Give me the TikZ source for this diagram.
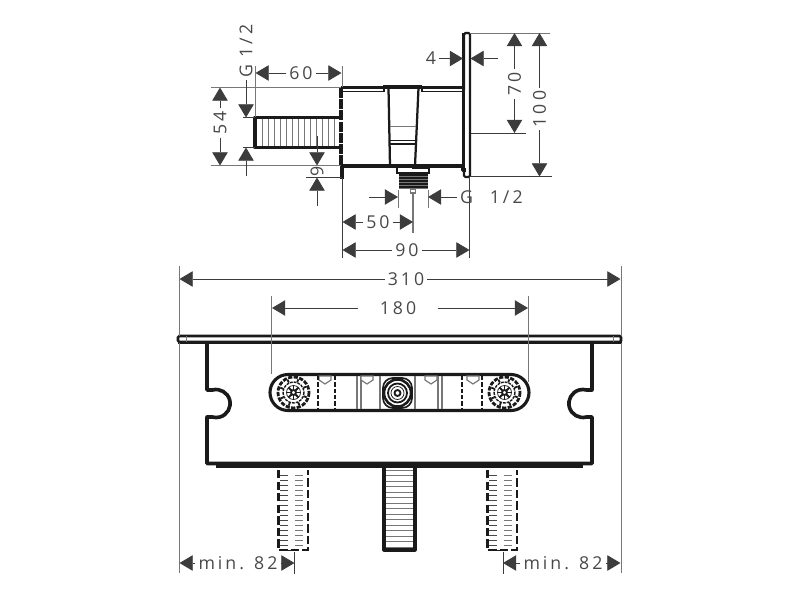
\documentclass[tikz,border=0pt]{standalone}
\usepackage{fontspec}
\usetikzlibrary{arrows.meta, calc}
\newfontfamily\dimfont[LetterSpace=17]{Open Sans}
\definecolor{inkdark}{HTML}{1A1A1A}
\definecolor{linegray}{HTML}{777777}
\definecolor{textgray}{HTML}{484848}

\begin{document}
\begin{tikzpicture}[
		x=0.25mm, y=-0.25mm,
		>={Triangle[length=9.4pt,width=11pt]},
		dimline/.style={line width=0.6pt, draw=inkdark!85},
		extline/.style={line width=0.6pt, draw=linegray},
		dimtext/.style={font=\dimfont\fontsize{12.6}{13}\selectfont, text=textgray, inner sep=2pt},
		body/.style={line width=2.2pt, draw=inkdark, line join=round},
		mid/.style={line width=1.3pt, draw=inkdark},
		thin/.style={line width=0.5pt, draw=linegray},
		hollowstub/.style={line width=1.5pt, draw=inkdark, dash pattern=on 6pt off 2.2pt},
		knob/.pic={
			\draw[line width=2pt, draw=inkdark, dash pattern=on 3pt off 1pt] (0,0) circle (15.5);
			\draw[line width=1pt, draw=inkdark, dash pattern=on 2pt off 0.7pt] (0,0) circle (10.5);
			\draw[thin, draw=inkdark] (0,0) circle (7);
			\draw[mid] (0,0) circle (2.5);
			\foreach \ang in {0,45,...,315}{
				\draw[mid] (\ang:3) -- (\ang:7);
				\draw[mid] (\ang+20:11) -- (\ang+20:14);
			}
		}
		]
		
		\useasboundingbox (0,0) rectangle (800,600);
		
		% ==========================================
		% SIDE VIEW
		% ==========================================
		% stub with grooves
		\foreach \xx in {262,268,...,336}
		\draw[thin] (\xx,118) -- (\xx,147);
		\draw[body] (340,117.5) -- (255,117.5) -- (255,147.5) -- (340,147.5);
		
		% housing
		\draw[line width=2.4pt, draw=inkdark, dash pattern=on 7pt off 1pt] (341,88) -- (341,166);
		\draw[body] (342,166) -- (342,179);
		\draw[body] (341,87.5) -- (463,87.5);
		\draw[body] (341,166) -- (463,166);
		\draw[mid] (343,91.5) -- (384,91.5) -- (384,87.5);
		\draw[mid] (422,87.5) -- (422,91.5) -- (463,91.5);
		\draw[body, line width=1.5pt] (383,86) -- (422,86);
		\draw[body, line width=1.6pt] (388.5,88) -- (390,166);
		\draw[body, line width=1.6pt] (418.5,88) -- (415,166);
		\draw[thin] (390,126.5) -- (416,126.5);
		\draw[mid] (390,140.5) -- (416,140.5);
		\draw[mid] (390,144) -- (416,144);
		
		% outlet
		\draw[mid] (397,166) -- (397,174);
		\draw[mid] (429,166) -- (429,174);
		\draw[mid] (397,173) -- (429,173);
		\draw[mid] (412,168) -- (429,168);
		\fill[inkdark] (399,174) rectangle (428,189);
		\foreach \yy in {176,179,...,188}
		\draw[thin] (399,\yy) -- (428,\yy);
		\draw[thin, line width=0.8pt] (410.5,189) rectangle (415.5,193);
		
		% wall plate
		\draw[line width=1.6pt, draw=inkdark, rounded corners=1pt] (464,90) -- (464,33) -- (470,33) -- (470,177) -- (464,177) -- (464,168);
		\draw[body] (463.5,33) -- (463.5,168);
		\draw[body] (463,167) -- (463,170) -- (466,170);
		
		% ==========================================
		% SIDE VIEW DIMENSIONS
		% ==========================================
		\draw[extline] (211,87.5) -- (341,87.5);
		\draw[extline] (211,165.5) -- (341,165.5);
		\draw[extline] (255.5,66) -- (255.5,117);
		\draw[extline] (342,66) -- (342,87);
		\draw[dimline] (342,178) -- (342,258);
		\draw[extline] (470,33) -- (550,33);
		\draw[dimline] (470,176.5) -- (552,176.5);
		\draw[dimline] (471,133) -- (526,133);
		\draw[dimline] (469.5,178) -- (469.5,258);
		\draw[dimline] (243,117.5) -- (255,117.5);
		\draw[dimline] (243,147.5) -- (255,147.5);
		\draw[dimline] (306,177.5) -- (342,177.5);
		\draw[extline] (398,190) -- (398,208);
		\draw[extline] (428,190) -- (428,208);
		\draw[extline, line width=0.8pt] (413,193) -- (413,233);
		
		% 60
		\coordinate (a60) at (255.5,73);
		\coordinate (b60) at (341.5,73);
		\node[dimtext] (t60) at (301,73) {60};
		\draw[dimline, ->] (t60.west |- a60) -- (a60);
		\draw[dimline, ->] (t60.east |- b60) -- (b60);
		
		% 54
		\coordinate (a54) at (220,87.5);
		\coordinate (b54) at (220,165.5);
		\node[dimtext, rotate=90] (t54) at (220,123) {54};
		\draw[dimline, ->] (a54 |- t54.east) -- (a54);
		\draw[dimline, ->] (b54 |- t54.west) -- (b54);
		
		% G 1/2 (stub)
		\coordinate (a12) at (246,117.5);
		\coordinate (b12) at (246,147.5);
		\coordinate (c12) at (246,176);
		\node[dimtext, rotate=90] (tg1) at (246,51) {G\hspace{5pt}1/2};
		\draw[dimline, ->] (a12 |- tg1.west) -- (a12);
		\draw[dimline, ->] (c12) -- (b12);
		
		% 9
		\coordinate (a9) at (317,165.5);
		\coordinate (b9) at (317,177.5);
		\coordinate (c9) at (317,136);
		\coordinate (d9) at (317,206);
		\node[dimtext, rotate=90, inner sep=0pt] (t9) at (317,171.5) {9};
		\draw[dimline, ->] (c9) -- (a9);
		\draw[dimline, ->] (d9) -- (b9);
		
		% G 1/2 (outlet)
		\coordinate (a13) at (398,197);
		\coordinate (b13) at (428,197);
		\coordinate (c13) at (369,197);
		\node[dimtext, anchor=west] (tg2) at (457,197) {G\hspace{12pt}1/2};
		\draw[dimline, ->] (c13) -- (a13);
		\draw[dimline, ->] (tg2.west |- b13) -- (b13);
		
		% 50
		\coordinate (a50) at (342.5,222);
		\coordinate (b50) at (413,222);
		\node[dimtext] (t50) at (378,222) {50};
		\draw[dimline, ->] (t50.west |- a50) -- (a50);
		\draw[dimline, ->] (t50.east |- b50) -- (b50);
		
		% 90
		\coordinate (a90) at (342.5,250);
		\coordinate (b90) at (469.5,250);
		\node[dimtext] (t90) at (407,250) {90};
		\draw[dimline, ->] (t90.west |- a90) -- (a90);
		\draw[dimline, ->] (t90.east |- b90) -- (b90);
		
		% 4
		\coordinate (a4) at (463,58.5);
		\coordinate (b4) at (470.5,58.5);
		\coordinate (c4) at (498,58.5);
		\node[dimtext] (t4) at (431,58.5) {4};
		\draw[dimline, ->] (t4.east |- a4) -- (a4);
		\draw[dimline, ->] (c4) -- (b4);
		
		% 70
		\coordinate (a70) at (514.5,33);
		\coordinate (b70) at (514.5,133);
		\node[dimtext, rotate=90] (t70) at (514.5,84) {70};
		\draw[dimline, ->] (a70 |- t70.east) -- (a70);
		\draw[dimline, ->] (b70 |- t70.west) -- (b70);
		
		% 100
		\coordinate (a100) at (539.5,33);
		\coordinate (b100) at (539.5,176.5);
		\node[dimtext, rotate=90] (t100) at (539.5,109) {100};
		\draw[dimline, ->] (a100 |- t100.east) -- (a100);
		\draw[dimline, ->] (b100 |- t100.west) -- (b100);
		
		% ==========================================
		% FRONT VIEW
		% ==========================================
		% top plate
		\draw[line width=1.8pt, draw=inkdark, rounded corners=1pt] (178,336) -- (621,336) -- (621,342) -- (178,342) -- cycle;
		\draw[line width=2.2pt, draw=inkdark] (178,342.5) -- (622,342.5);
		\draw[thin] (186,336) -- (186,342);
		\draw[thin] (613,336) -- (613,342);
		
		% box with notches
		\draw[body, line width=2.6pt] (207,343) -- (207,390) -- (212.5,390)
		arc[start angle=-105, end angle=105, radius=14] -- (207,417) -- (207,463.5) -- (592,463.5)
		-- (592,417) -- (586.5,417) arc[start angle=75, end angle=285, radius=14] -- (592,390) -- (592,343);
		\fill[inkdark] (216,463) rectangle (583,468);
		
		% slot
		\draw[body, line width=2.2pt] (288,374.5) -- (511,374.5) arc[start angle=-90, end angle=90, radius=18]
		-- (288,410.5) arc[start angle=90, end angle=270, radius=18] -- cycle;
		\pic at (293.5,392.5) {knob};
		\pic at (504.5,392.5) {knob};
		
		% centre valve
		\draw[body, line width=1.2pt, rounded corners=7pt] (383,378) rectangle (412,408);
		\draw[body, line width=1.8pt, draw=inkdark] (397.5,393) circle (13.5);
		\draw[mid] (397.5,393) circle (9.5);
		\draw[thin, draw=inkdark] (397.5,393) circle (6.5);
		\draw[mid] (397.5,393) circle (3);
		
		% inner parts
		\foreach \xx in {357,361,380,415,438,442}
		\draw[thin, line width=0.8pt] (\xx,376) -- (\xx,409);
		\foreach \xx in {325,367,431,473}
		\draw[thin, line width=0.8pt, fill=white] (\xx-6,376) -- (\xx+6,376) -- (\xx+6,380) -- (\xx,384) -- (\xx-6,380) -- cycle;
		\foreach \xx in {318,335,462,482}
		\draw[thin, line width=1pt, draw=inkdark, dash pattern=on 3pt off 1.5pt] (\xx,376) -- (\xx,409);
		
		% centre spout
		\foreach \yy in {470,475.5,...,547}
		\draw[thin] (385,\yy) -- (414,\yy);
		\draw[body] (384,465) -- (384,550) -- (415,550) -- (415,465);
		
		% hidden side connections
		\foreach \xoff in {0,209}{
			\begin{scope}[xshift=\xoff*0.25mm]
				\draw[hollowstub] (278.5,470) -- (278.5,550) -- (308,550) -- (308,470);
				\draw[mid] (288,550.5) -- (299,550.5);
				\foreach \yy in {475,480,...,545}{
					\draw[thin, draw=inkdark!80] (280,\yy) -- (288,\yy);
					\draw[thin] (295,\yy) -- (303,\yy);
				}
			\end{scope}
		}
		
		% ==========================================
		% FRONT VIEW DIMENSIONS
		% ==========================================
		\draw[extline] (179,266) -- (179,336);
		\draw[extline] (179,343) -- (179,573);
		\draw[extline] (621,266) -- (621,336);
		\draw[extline] (621,343) -- (621,573);
		\draw[extline] (271.5,296) -- (271.5,374);
		\draw[extline] (528,296) -- (528,382);
		\draw[dimline] (294.5,552) -- (294.5,574);
		\draw[dimline] (503,552) -- (503,574);
		
		% 310
		\coordinate (a310) at (179.5,279);
		\coordinate (b310) at (620.5,279);
		\node[dimtext] (t310) at (406,279) {310};
		\draw[dimline, ->] (t310.west |- a310) -- (a310);
		\draw[dimline, ->] (t310.east |- b310) -- (b310);
		
		% 180
		\coordinate (a180) at (272,308);
		\coordinate (b180) at (528,308);
		\node[dimtext, inner xsep=15pt] (t180) at (398,308) {180};
		\draw[dimline, ->] (t180.west |- a180) -- (a180);
		\draw[dimline, ->] (t180.east |- b180) -- (b180);
		
		% min. 82
		\coordinate (a82) at (179.5,563);
		\coordinate (b82) at (294.5,563);
		\coordinate (c82) at (503,563);
		\coordinate (d82) at (620.5,563);
		\node[dimtext] (t82l) at (238,563) {min. 82};
		\node[dimtext] (t82r) at (563,563) {min. 82};
		\draw[dimline, ->] (t82l.west |- a82) -- (a82);
		\draw[dimline, ->] (t82l.east |- b82) -- (b82);
		\draw[dimline, ->] (t82r.west |- c82) -- (c82);
		\draw[dimline, ->] (t82r.east |- d82) -- (d82);
		
	\end{tikzpicture}
\end{document}
